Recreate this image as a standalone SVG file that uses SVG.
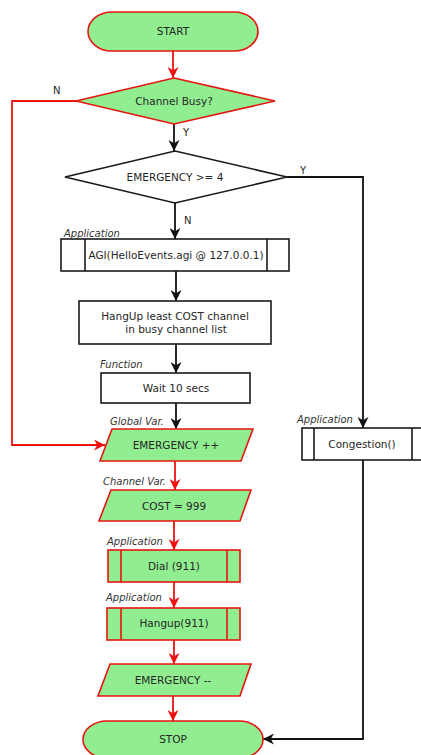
<svg xmlns="http://www.w3.org/2000/svg" width="421" height="755" viewBox="0 0 421 755">
  <defs>
    <style>
      .t { font-family: "DejaVu Sans", "Liberation Sans", sans-serif; font-size: 10.5px; fill: #262626; text-anchor: middle; }
      .lbl { font-family: "DejaVu Sans", "Liberation Sans", sans-serif; font-size: 10px; font-style: italic; fill: #333; }
      .yn { font-family: "DejaVu Sans", "Liberation Sans", sans-serif; font-size: 10px; fill: #262626; }
      .g { fill: #90ee90; stroke: #e8140f; stroke-width: 1.6; }
      .w { fill: #ffffff; stroke: #1a1a1a; stroke-width: 1.6; }
      .gi { stroke: #e8140f; stroke-width: 1.6; }
      .wi { stroke: #1a1a1a; stroke-width: 1.6; }
      .cr { fill: none; stroke: #ee1111; stroke-width: 1.8; }
      .cb { fill: none; stroke: #111111; stroke-width: 1.8; }
    </style>
    <marker id="ar" viewBox="0 0 10 10" refX="10" refY="5" markerWidth="11" markerHeight="11" markerUnits="userSpaceOnUse" orient="auto">
      <path d="M0,0 L10,5 L0,10 L3,5 z" fill="#ee1111"/>
    </marker>
    <marker id="ab" viewBox="0 0 10 10" refX="10" refY="5" markerWidth="11" markerHeight="11" markerUnits="userSpaceOnUse" orient="auto">
      <path d="M0,0 L10,5 L0,10 L3,5 z" fill="#111111"/>
    </marker>
  </defs>

  <!-- connectors -->
  <g id="connectors">
    <line class="cr" x1="173" y1="51" x2="173" y2="78" marker-end="url(#ar)"/>
    <polyline class="cr" points="76,101 12,101 12,445 105,445" marker-end="url(#ar)"/>
    <line class="cb" x1="174" y1="124" x2="174" y2="151" marker-end="url(#ab)"/>
    <polyline class="cb" points="287,177 363,177 363,428" marker-end="url(#ab)"/>
    <line class="cb" x1="175" y1="203" x2="175" y2="239" marker-end="url(#ab)"/>
    <line class="cb" x1="176" y1="271" x2="176" y2="301" marker-end="url(#ab)"/>
    <line class="cb" x1="176" y1="344" x2="176" y2="373" marker-end="url(#ab)"/>
    <line class="cb" x1="176" y1="403" x2="176" y2="429" marker-end="url(#ab)"/>
    <line class="cr" x1="175" y1="461" x2="175" y2="490" marker-end="url(#ar)"/>
    <line class="cr" x1="174" y1="521" x2="174" y2="550" marker-end="url(#ar)"/>
    <line class="cr" x1="174" y1="582" x2="174" y2="608" marker-end="url(#ar)"/>
    <line class="cr" x1="174" y1="640" x2="174" y2="664" marker-end="url(#ar)"/>
    <line class="cr" x1="173" y1="696" x2="173" y2="721" marker-end="url(#ar)"/>
    <polyline class="cb" points="363,460 363,739 263,739" marker-end="url(#ab)"/>
    <text class="yn" x="53" y="94">N</text>
    <text class="yn" x="183" y="136">Y</text>
    <text class="yn" x="300" y="174">Y</text>
    <text class="yn" x="184" y="224">N</text>
  </g>

  <g id="start">
    <rect class="g" x="88" y="12" width="170" height="39" rx="24" ry="19.5"/>
    <text class="t" x="173" y="31" dy=".35em">START</text>
  </g>

  <g id="channel-busy">
    <polygon class="g" points="174,78 275,101 174,124 76,101"/>
    <text class="t" x="174" y="101" dy=".35em">Channel Busy?</text>
  </g>

  <g id="emergency-check">
    <polygon class="w" points="175,151 287,177 175,203 65,177"/>
    <text class="t" x="175" y="177" dy=".35em">EMERGENCY &gt;= 4</text>
  </g>

  <g id="agi">
    <text class="lbl" x="64" y="237">Application</text>
    <rect class="w" x="61" y="239" width="228" height="32"/>
    <line class="wi" x1="85" y1="239" x2="85" y2="271"/>
    <line class="wi" x1="267" y1="239" x2="267" y2="271"/>
    <text class="t" x="176" y="255" dy=".35em">AGI(HelloEvents.agi @ 127.0.0.1)</text>
  </g>

  <g id="hangup-least">
    <rect class="w" x="79" y="301" width="192" height="43"/>
    <text class="t" x="175" y="316" dy=".35em">HangUp least COST channel</text>
    <text class="t" x="176" y="329" dy=".35em">in busy channel list</text>
  </g>

  <g id="wait">
    <text class="lbl" x="100" y="368">Function</text>
    <rect class="w" x="101" y="373" width="149" height="30"/>
    <text class="t" x="176" y="388" dy=".35em">Wait 10 secs</text>
  </g>

  <g id="emergency-inc">
    <text class="lbl" x="110" y="425">Global Var.</text>
    <polygon class="g" points="112,429 253,429 241,461 100,461"/>
    <text class="t" x="176" y="445" dy=".35em">EMERGENCY ++</text>
  </g>

  <g id="cost">
    <text class="lbl" x="103" y="485">Channel Var.</text>
    <polygon class="g" points="111,490 251,490 240,521 99,521"/>
    <text class="t" x="174" y="506" dy=".35em">COST = 999</text>
  </g>

  <g id="dial">
    <text class="lbl" x="107" y="545">Application</text>
    <rect class="g" x="108" y="550" width="132" height="32"/>
    <line class="gi" x1="121" y1="550" x2="121" y2="582"/>
    <line class="gi" x1="227" y1="550" x2="227" y2="582"/>
    <text class="t" x="174" y="566" dy=".35em">Dial (911)</text>
  </g>

  <g id="hangup">
    <text class="lbl" x="106" y="601">Application</text>
    <rect class="g" x="107" y="608" width="133" height="32"/>
    <line class="gi" x1="121" y1="608" x2="121" y2="640"/>
    <line class="gi" x1="227" y1="608" x2="227" y2="640"/>
    <text class="t" x="174" y="623" dy=".35em">Hangup(911)</text>
  </g>

  <g id="emergency-dec">
    <polygon class="g" points="110,664 251,664 240,696 98,696"/>
    <text class="t" x="173" y="680" dy=".35em">EMERGENCY --</text>
  </g>

  <g id="stop">
    <rect class="g" x="83" y="721" width="180" height="37" rx="24" ry="18.5"/>
    <text class="t" x="173" y="739" dy=".35em">STOP</text>
  </g>

  <g id="congestion">
    <text class="lbl" x="297" y="423">Application</text>
    <rect class="w" x="302" y="428" width="130" height="32"/>
    <line class="wi" x1="314" y1="428" x2="314" y2="460"/>
    <line class="wi" x1="412" y1="428" x2="412" y2="460"/>
    <text class="t" x="362" y="444" dy=".35em">Congestion()</text>
  </g>
</svg>
